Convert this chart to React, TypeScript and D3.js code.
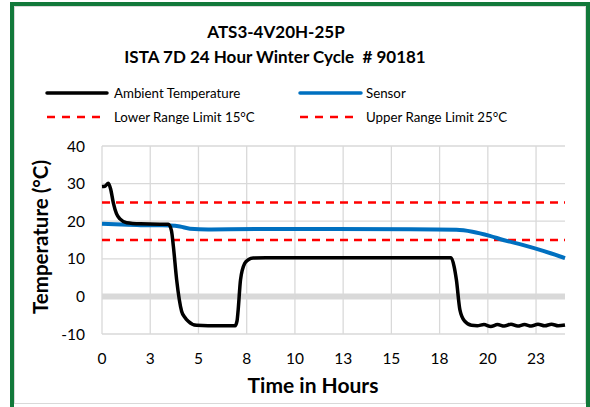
import * as d3 from "d3";

const W = 590;
const H = 407;
const M = { left: 102, right: 565, top: 146, bottom: 334 };

// ambient temperature (hours, °C)
const ambientHours = [0, 0.15, 0.33, 0.45, 0.59, 0.75, 0.93, 1.28, 2, 3, 3.44, 3.6, 3.7, 3.87, 4.13, 4.3, 4.47, 4.9, 5.5, 6.5, 6.9, 7.0, 7.06, 7.18, 7.4, 7.6, 7.84, 8.5, 10, 13, 15, 17, 18.1, 18.25, 18.37, 18.55, 18.8, 19.15, 19.45, 19.8, 20.15, 20.5, 20.85, 21.2, 21.55, 21.9, 22.25, 22.6, 22.95, 23.3, 23.65, 24.0];
const ambientTemps = [29.2, 29.3, 30.1, 28.5, 24.8, 22.0, 20.6, 19.6, 19.3, 19.2, 19.2, 17.5, 13.3, 4.4, -4.0, -5.6, -6.6, -7.7, -7.8, -7.8, -7.8, -6.5, -3.5, 4.4, 8.8, 9.8, 10.2, 10.3, 10.3, 10.3, 10.3, 10.3, 10.3, 8.0, 4.4, -3.5, -6.6, -7.7, -7.8, -7.5, -8.0, -7.5, -7.9, -7.4, -7.9, -7.5, -7.9, -7.4, -7.8, -7.4, -7.8, -7.6];

// sensor (hours, °C)
const sensorHours = [0, 1, 2, 3, 3.5, 4.04, 4.56, 5.5, 8, 12, 16, 18.37, 19.2, 20.1, 20.8, 21.8, 22.87, 24];
const sensorTemps = [19.3, 19.1, 18.95, 18.9, 18.85, 18.6, 18.0, 17.8, 17.9, 17.9, 17.85, 17.7, 17.2, 16.1, 15.0, 13.7, 12.1, 10.2];

const xTicks = [0, 2.5, 5, 7.5, 10, 12.5, 15, 17.5, 20, 22.5];
const yTicks = [-10, 0, 10, 20, 30, 40];
const lowerLimit = 15;
const upperLimit = 25;

const FONT = "Lato, 'Open Sans', sans-serif";
const GREEN = "#12793a";
const BLUE = "#0070c0";
const RED = "#ff0000";
const GRID = "#d9d9d9";

export default function App() {
  const x = d3.scaleLinear().domain([0, 24]).range([M.left, M.right]);
  const y = d3.scaleLinear().domain([-10, 40]).range([M.bottom, M.top]);

  const line = d3
    .line<[number, number]>()
    .x((d) => x(d[0]))
    .y((d) => y(d[1]))
    .curve(d3.curveMonotoneX);

  const ambient = ambientHours.map((h, i) => [h, ambientTemps[i]] as [number, number]);
  const sensor = sensorHours.map((h, i) => [h, sensorTemps[i]] as [number, number]);

  return (
    <div style={{ position: "fixed", left: 0, top: 0 }}>
      <svg width={W} height={H} style={{ display: "block", fontFamily: FONT }}>
        <rect width={W} height={H} fill="white" />
        {/* inner chart frame */}
        <rect x={14.5} y={6.5} width={571} height={397} fill="none" stroke="#d9d9d9" strokeWidth={1} />
        {/* green frame */}
        <rect x={12} y={4} width={576} height={420} fill="none" stroke={GREEN} strokeWidth={4} />

        {/* titles */}
        <text x={276} y={38} textAnchor="middle" fontWeight="bold" fontSize={17}>
          ATS3-4V20H-25P
        </text>
        <text x={275} y={63} textAnchor="middle" fontWeight="bold" fontSize={17} style={{ whiteSpace: "pre" }}>
          {"ISTA 7D 24 Hour Winter Cycle  # 90181"}
        </text>

        {/* legend */}
        <g fontSize={13.3}>
          <line x1={47} x2={107} y1={93} y2={93} stroke="black" strokeWidth={3.5} strokeLinecap="round" />
          <text x={114} y={97.5}>Ambient Temperature</text>
          <line x1={300} x2={361} y1={93} y2={93} stroke={BLUE} strokeWidth={3.5} strokeLinecap="round" />
          <text x={366} y={97.5}>Sensor</text>
          <line x1={47} x2={107} y1={117} y2={117} stroke={RED} strokeWidth={2.5} strokeDasharray="8 7" />
          <text x={114} y={121.5}>Lower Range Limit 15°C</text>
          <line x1={300} x2={359} y1={117} y2={117} stroke={RED} strokeWidth={2.5} strokeDasharray="8 7" />
          <text x={366} y={121.5}>Upper Range Limit 25°C</text>
        </g>

        {/* grid */}
        {yTicks.map((t) => (
          <line
            key={"gy" + t}
            x1={M.left}
            x2={M.right}
            y1={y(t)}
            y2={y(t)}
            stroke={GRID}
            strokeWidth={t === 0 ? 6 : 1.3}
          />
        ))}
        {xTicks.map((t) => (
          <line key={"gx" + t} x1={x(t)} x2={x(t)} y1={M.top} y2={M.bottom} stroke={GRID} strokeWidth={1.3} />
        ))}

        {/* limits */}
        {[upperLimit, lowerLimit].map((v) => (
          <line
            key={"lim" + v}
            x1={M.left}
            x2={M.right}
            y1={y(v)}
            y2={y(v)}
            stroke={RED}
            strokeWidth={2.5}
            strokeDasharray="8 6"
          />
        ))}

        {/* series */}
        <path d={line(sensor) ?? ""} fill="none" stroke={BLUE} strokeWidth={4} strokeLinejoin="round" />
        <path d={line(ambient) ?? ""} fill="none" stroke="black" strokeWidth={3.5} strokeLinejoin="round" />

        {/* y ticks */}
        <g fontSize={15.5} textAnchor="end">
          {yTicks.map((t) => (
            <text key={"ty" + t} x={85} y={y(t) + 5.5}>
              {t}
            </text>
          ))}
        </g>
        {/* x ticks */}
        <g fontSize={15.5} textAnchor="middle">
          {xTicks.map((t) => (
            <text key={"tx" + t} x={x(t)} y={364}>
              {d3.format(".0f")(Math.round(t + 0.01))}
            </text>
          ))}
        </g>

        {/* axis titles */}
        <text x={313} y={393} textAnchor="middle" fontWeight="bold" fontSize={21}>
          Time in Hours
        </text>
        <text
          transform={`translate(48,237) rotate(-90)`}
          textAnchor="middle"
          fontWeight="bold"
          fontSize={20.5}
        >
          Temperature (°C)
        </text>
      </svg>
    </div>
  );
}
